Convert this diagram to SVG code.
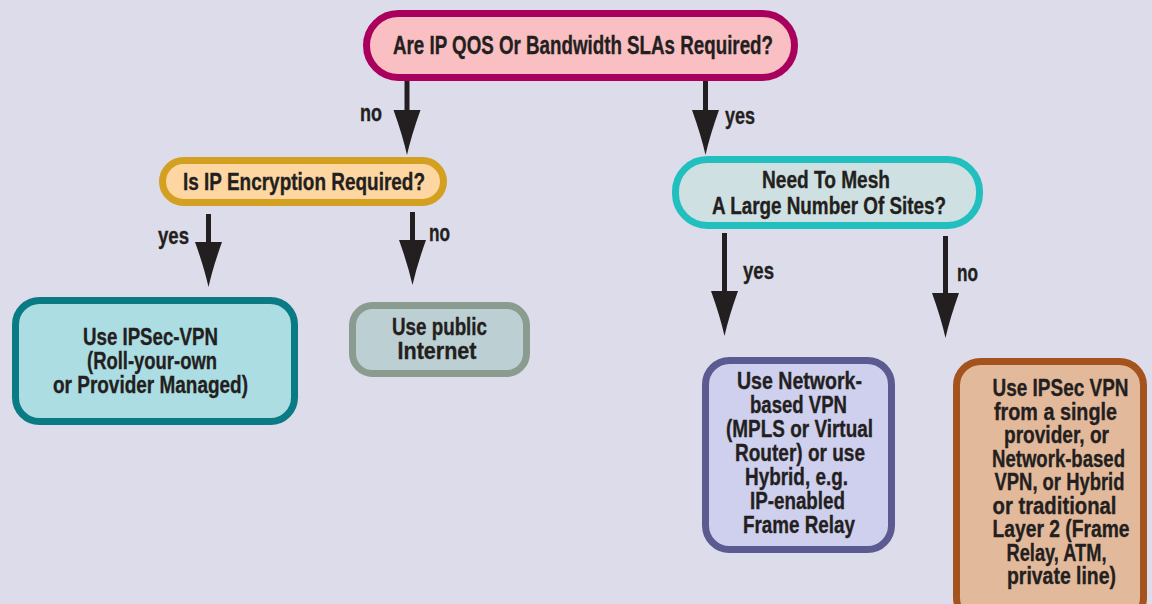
<svg xmlns="http://www.w3.org/2000/svg" xmlns:xlink="http://www.w3.org/1999/xlink" width="1152" height="604" viewBox="0 0 1152 604">
  <style>
    text { font-family: "Liberation Sans Narrow", "Liberation Sans", Arial, sans-serif; font-weight: bold; fill: #231f20; stroke: #231f20; stroke-width: 0.35; text-anchor: middle; }
    .lbl { font-size: 23px; text-anchor: start; }
    .t { font-size: 23.5px; }
    .big { font-size: 25px; }
    .box { stroke-width: 7; }
    .shaft { stroke: #231f20; stroke-width: 5; }
    .head { fill: #231f20; }
  </style>
  <defs>
    <!-- arrowhead, tip at the origin -->
    <path id="ah" class="head" d="M-13.5,-45 L13.5,-45 Q4.5,-20 0,0 Q-4.5,-20 -13.5,-45 Z"/>
  </defs>

  <rect width="1152" height="604" fill="#dcdcea"/>

  <!-- connectors -->
  <g id="connectors">
    <g id="c-qos-no">
      <line class="shaft" x1="407" y1="80" x2="407" y2="112"/>
      <use xlink:href="#ah" href="#ah" x="407" y="155"/>
      <text class="lbl" x="360" y="121" textLength="22" lengthAdjust="spacingAndGlyphs">no</text>
    </g>
    <g id="c-qos-yes">
      <line class="shaft" x1="705.5" y1="80" x2="705.5" y2="112"/>
      <use xlink:href="#ah" href="#ah" x="705.5" y="155"/>
      <text class="lbl" x="725" y="124" textLength="30" lengthAdjust="spacingAndGlyphs">yes</text>
    </g>
    <g id="c-enc-yes">
      <line class="shaft" x1="208.5" y1="214" x2="208.5" y2="244"/>
      <use xlink:href="#ah" href="#ah" x="208.5" y="287"/>
      <text class="lbl" x="158" y="244" textLength="31" lengthAdjust="spacingAndGlyphs">yes</text>
    </g>
    <g id="c-enc-no">
      <line class="shaft" x1="412.5" y1="212" x2="412.5" y2="242"/>
      <use xlink:href="#ah" href="#ah" x="412.5" y="285"/>
      <text class="lbl" x="429" y="241" textLength="21" lengthAdjust="spacingAndGlyphs">no</text>
    </g>
    <g id="c-mesh-yes">
      <line class="shaft" x1="724.5" y1="233" x2="724.5" y2="293"/>
      <use xlink:href="#ah" href="#ah" x="724.5" y="336"/>
      <text class="lbl" x="743" y="279" textLength="31" lengthAdjust="spacingAndGlyphs">yes</text>
    </g>
    <g id="c-mesh-no">
      <line class="shaft" x1="945.5" y1="236" x2="945.5" y2="296"/>
      <use xlink:href="#ah" href="#ah" x="945.5" y="338"/>
      <text class="lbl" x="957" y="281" textLength="21" lengthAdjust="spacingAndGlyphs">no</text>
    </g>
  </g>

  <!-- decision: QoS / SLAs -->
  <g id="n-qos">
    <rect class="box" x="366.5" y="13.5" width="428" height="64" rx="32" fill="#f9bfc2" stroke="#a8005c"/>
    <text class="big" x="583" y="54" textLength="380" lengthAdjust="spacingAndGlyphs">Are IP QOS Or Bandwidth SLAs Required?</text>
  </g>

  <!-- decision: encryption -->
  <g id="n-enc">
    <rect class="box" x="162.5" y="160.5" width="281" height="42" rx="21" fill="#fdd6a2" stroke="#d4a021"/>
    <text class="t" x="304" y="189.5" textLength="242" lengthAdjust="spacingAndGlyphs">Is IP Encryption Required?</text>
  </g>

  <!-- decision: mesh -->
  <g id="n-mesh">
    <rect class="box" x="675.5" y="159.5" width="304" height="66" rx="32" fill="#cfe0e2" stroke="#22bfbf"/>
    <text class="t" x="826" y="188" textLength="128" lengthAdjust="spacingAndGlyphs">Need To Mesh</text>
    <text class="t" x="829" y="214" textLength="234" lengthAdjust="spacingAndGlyphs">A Large Number Of Sites?</text>
  </g>

  <!-- outcome: IPSec VPN -->
  <g id="n-ipsec">
    <rect class="box" x="15.5" y="300.5" width="279" height="121" rx="24" fill="#acdde3" stroke="#0a7b84"/>
    <text class="t" x="150.5" y="345" textLength="135" lengthAdjust="spacingAndGlyphs">Use IPSec-VPN</text>
    <text class="t" x="152" y="369" textLength="130" lengthAdjust="spacingAndGlyphs">(Roll-your-own</text>
    <text class="t" x="150.5" y="393" textLength="195" lengthAdjust="spacingAndGlyphs">or Provider Managed)</text>
  </g>

  <!-- outcome: public Internet -->
  <g id="n-internet">
    <rect class="box" x="352.5" y="305.5" width="174" height="68" rx="20" fill="#bccfd3" stroke="#8a9b90"/>
    <text class="t" x="439.5" y="335" textLength="95" lengthAdjust="spacingAndGlyphs">Use public</text>
    <text class="t" x="437" y="359" textLength="79" lengthAdjust="spacingAndGlyphs">Internet</text>
  </g>

  <!-- outcome: network-based VPN -->
  <g id="n-netvpn">
    <rect class="box" x="705.5" y="360.5" width="186" height="189" rx="24" fill="#cfcfee" stroke="#5b5b92"/>
    <text class="t" x="799.5" y="389" textLength="125" lengthAdjust="spacingAndGlyphs">Use Network-</text>
    <text class="t" x="798.5" y="413" textLength="97" lengthAdjust="spacingAndGlyphs">based VPN</text>
    <text class="t" x="799.5" y="437" textLength="147" lengthAdjust="spacingAndGlyphs">(MPLS or Virtual</text>
    <text class="t" x="800" y="461" textLength="130" lengthAdjust="spacingAndGlyphs">Router) or use</text>
    <text class="t" x="796.5" y="485" textLength="103" lengthAdjust="spacingAndGlyphs">Hybrid, e.g.</text>
    <text class="t" x="797.5" y="509" textLength="95" lengthAdjust="spacingAndGlyphs">IP-enabled</text>
    <text class="t" x="799" y="533" textLength="112" lengthAdjust="spacingAndGlyphs">Frame Relay</text>
  </g>

  <!-- outcome: single provider / layer 2 -->
  <g id="n-single">
    <rect class="box" x="956.5" y="361.5" width="187" height="260" rx="24" fill="#e3b99b" stroke="#a5531c"/>
    <text class="t" x="1060.5" y="396" textLength="136" lengthAdjust="spacingAndGlyphs">Use IPSec VPN</text>
    <text class="t" x="1055.5" y="419.5" textLength="123" lengthAdjust="spacingAndGlyphs">from a single</text>
    <text class="t" x="1056.5" y="443" textLength="105" lengthAdjust="spacingAndGlyphs">provider, or</text>
    <text class="t" x="1058.5" y="466.5" textLength="133" lengthAdjust="spacingAndGlyphs">Network-based</text>
    <text class="t" x="1059.5" y="490" textLength="130" lengthAdjust="spacingAndGlyphs">VPN, or Hybrid</text>
    <text class="t" x="1054.5" y="513.5" textLength="124" lengthAdjust="spacingAndGlyphs">or traditional</text>
    <text class="t" x="1061" y="537" textLength="137" lengthAdjust="spacingAndGlyphs">Layer 2 (Frame</text>
    <text class="t" x="1056.5" y="560.5" textLength="100" lengthAdjust="spacingAndGlyphs">Relay, ATM,</text>
    <text class="t" x="1061.5" y="584" textLength="109" lengthAdjust="spacingAndGlyphs">private line)</text>
  </g>
</svg>
